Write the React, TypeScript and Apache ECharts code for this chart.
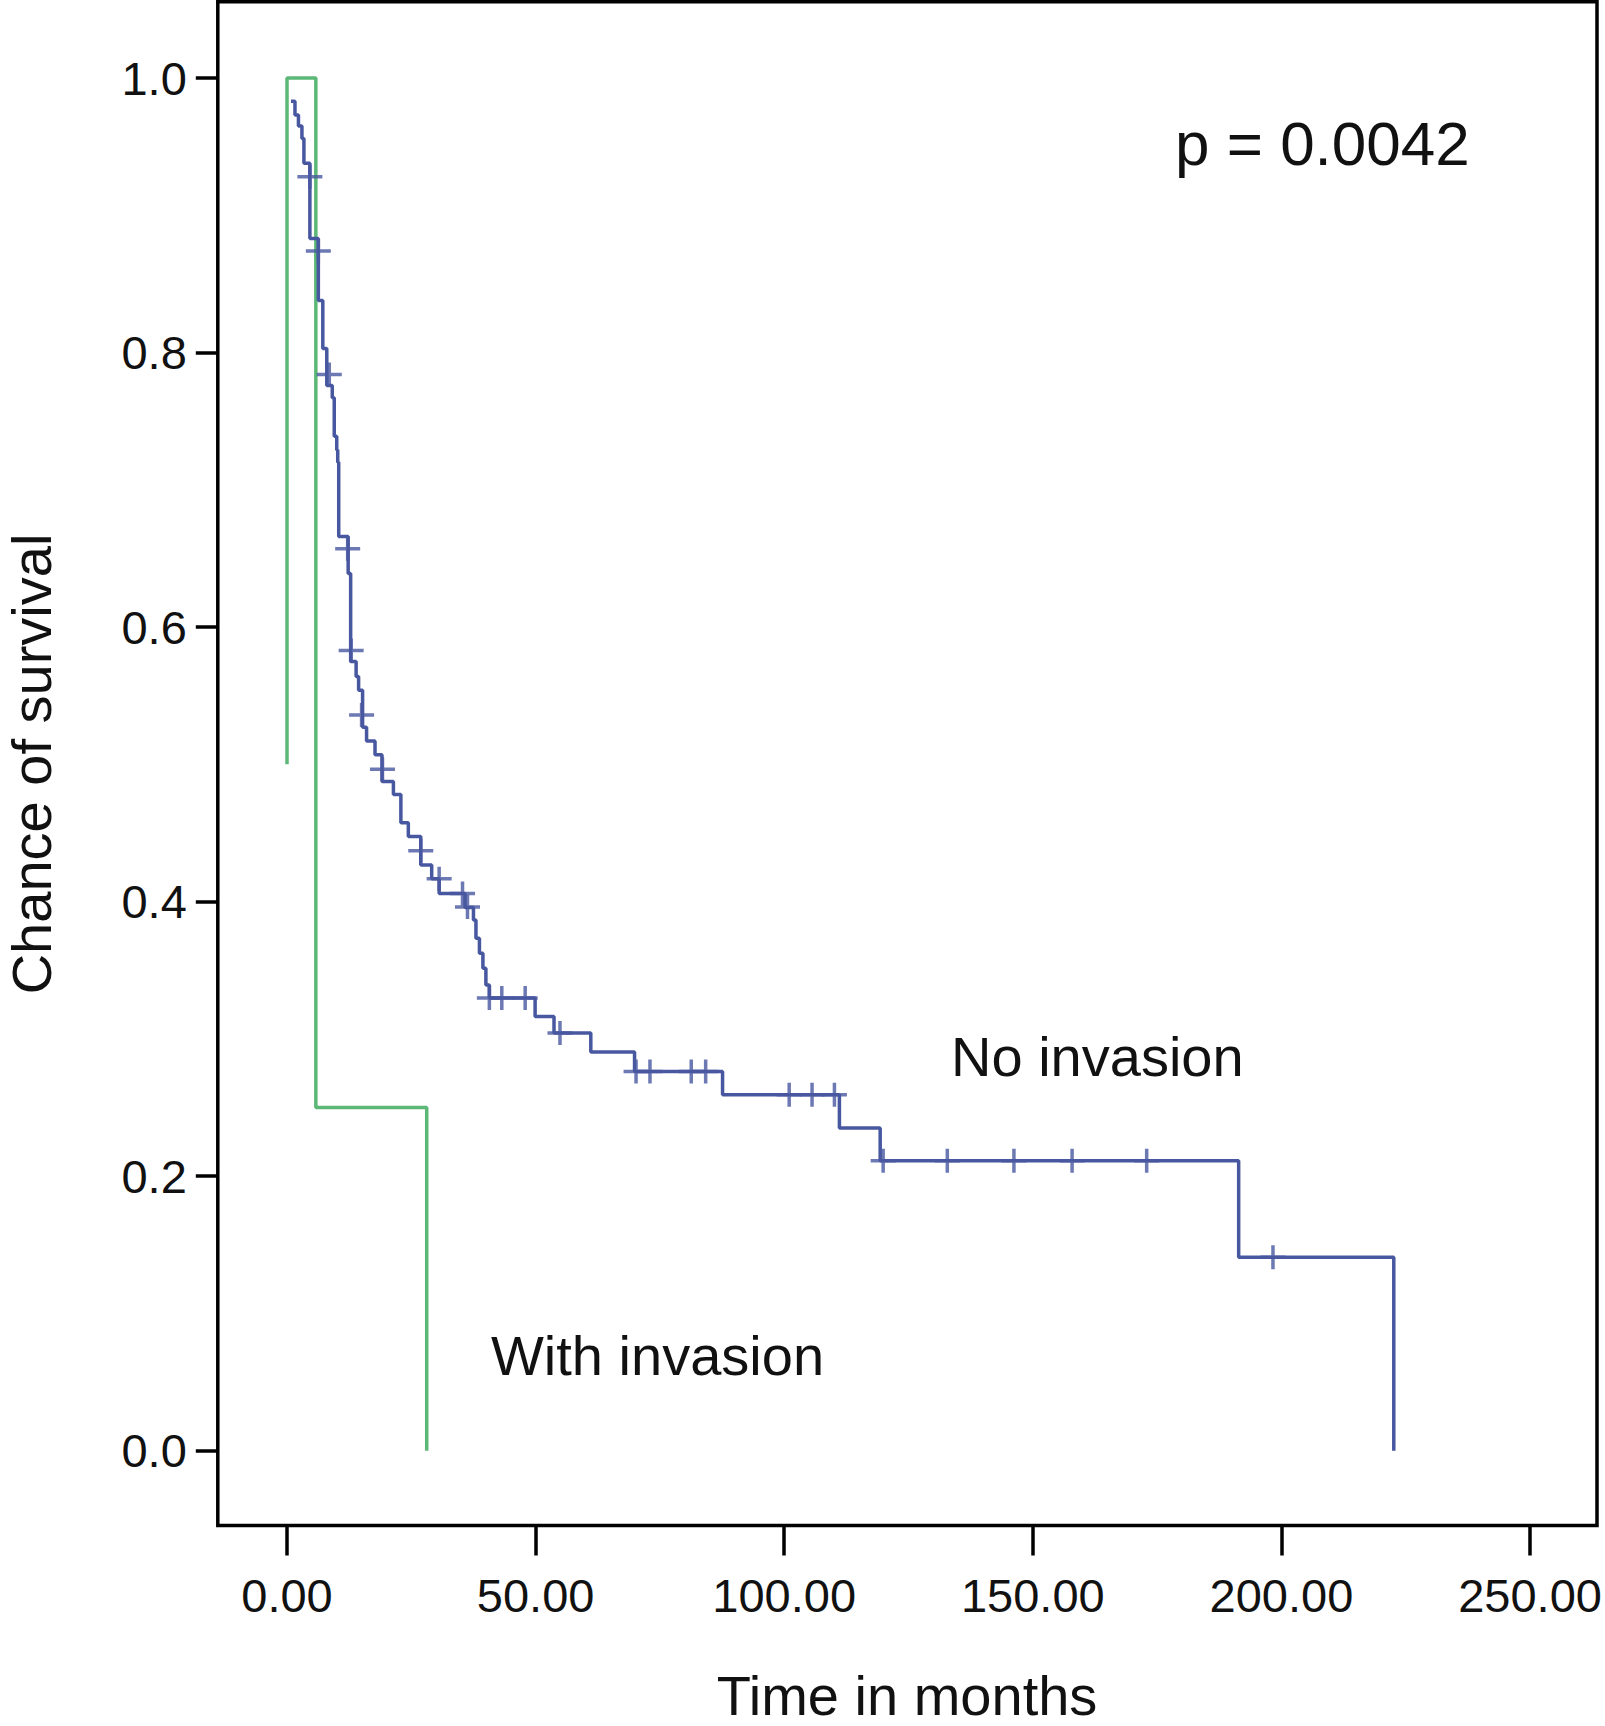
import React, { useEffect, useRef } from "react";
import * as echarts from "echarts";

// ---- Data ----
const xTickValues = [0, 50, 100, 150, 200, 250];
const yTickValues = [0, 0.2, 0.4, 0.6, 0.8, 1.0];

// "No invasion" Kaplan-Meier steps: time of drop (months) and survival after drop
const noInvasionTimes = [
  0.8, 1.6, 2.3, 3.0, 3.4, 4.6, 6.3, 7.2, 8.0, 9.1, 9.5, 10.0, 10.2, 10.4, 12.3,
  12.8, 13.9, 14.4, 15.2, 16.0, 17.7, 19.1, 21.4, 22.9, 24.4, 26.9, 29.1, 30.6,
  35.8, 37.5, 38.0, 38.7, 39.4, 40.0, 40.7, 49.9, 53.7, 61.1, 69.9, 87.6, 111.1,
  119.3, 191.4, 222.6,
];
const noInvasionSurvival = [
  0.983, 0.973, 0.965, 0.956, 0.938, 0.883, 0.838, 0.803, 0.776, 0.767, 0.739,
  0.729, 0.72, 0.666, 0.639, 0.575, 0.564, 0.554, 0.527, 0.517, 0.507, 0.4875,
  0.478, 0.4575, 0.4475, 0.4267, 0.4166, 0.406, 0.3957, 0.3867, 0.3734, 0.3624,
  0.3515, 0.3393, 0.3297, 0.3163, 0.3042, 0.2904, 0.2763, 0.2593, 0.2351, 0.2112,
  0.141, 0,
];
// censored observations
const noInvasionCensorTimes = [
  4.6, 6.3, 8.5, 12.2, 12.9, 15.0, 19.2, 26.9, 30.6, 35.3, 36.3, 40.7, 43.2, 47.9,
  54.9, 70.2, 73.0, 81.3, 84.2, 101.0, 105.6, 110.1, 119.9, 132.8, 146.2, 157.9,
  172.9, 198.3,
];
const noInvasionCensorSurvival = [
  0.928, 0.874, 0.784, 0.657, 0.583, 0.536, 0.4965, 0.437, 0.4166, 0.406, 0.396,
  0.3297, 0.3297, 0.3297, 0.3042, 0.2763, 0.2763, 0.2763, 0.2763, 0.2593, 0.2593,
  0.2593, 0.2112, 0.2112, 0.2112, 0.2112, 0.2112, 0.141,
];

// "With invasion" curve
const withInvasionTimes = [0, 0, 5.8, 28.1];
const withInvasionSurvival = [0.5, 1.0, 0.25, 0];

const BLUE = "#4858a0";
const GREEN = "#5cb876";
const FONT = '"Liberation Sans", Arial, Helvetica, sans-serif';
const PLUS =
  "path://M0,10.25 L25,10.25 L25,13.75 L0,13.75 Z M10.75,0 L14.25,0 L14.25,24 L10.75,24 Z";

export default function App() {
  const ref = useRef<HTMLDivElement>(null);

  useEffect(() => {
    if (!ref.current) return;
    const chart = echarts.init(ref.current, undefined, { renderer: "svg" });

    const blueLine = noInvasionTimes.map((t, i) => [t, noInvasionSurvival[i]]);
    const blueCensor = noInvasionCensorTimes.map((t, i) => [
      t,
      noInvasionCensorSurvival[i],
    ]);
    const greenLine = withInvasionTimes.map((t, i) => [
      t,
      withInvasionSurvival[i],
    ]);

    const textStyle = (size: number) => ({
      font: `${size}px ${FONT}`,
      fill: "#111",
    });

    chart.setOption({
      animation: false,
      backgroundColor: "#fff",
      textStyle: { fontFamily: FONT },
      grid: {
        show: true,
        left: 217.8,
        top: 1.7,
        width: 1379.2,
        height: 1523.8,
        borderColor: "#000",
        borderWidth: 3.5,
        backgroundColor: "transparent",
      },
      xAxis: {
        type: "value",
        min: -13.92,
        max: 263.47,
        splitLine: { show: false },
        axisLine: { show: false, onZero: false },
        axisTick: {
          show: true,
          length: 30,
          customValues: xTickValues,
          lineStyle: { color: "#000", width: 3.5 },
        },
        axisLabel: {
          customValues: xTickValues,
          margin: 46,
          fontSize: 47,
          color: "#111",
          fontFamily: FONT,
          formatter: (v: number) => v.toFixed(2),
        },
      },
      yAxis: {
        type: "value",
        min: -0.0545,
        max: 1.0556,
        splitLine: { show: false },
        axisLine: { show: false, onZero: false },
        axisTick: {
          show: true,
          length: 22,
          customValues: yTickValues,
          lineStyle: { color: "#000", width: 3.5 },
        },
        axisLabel: {
          customValues: yTickValues,
          margin: 31,
          fontSize: 47,
          color: "#111",
          fontFamily: FONT,
          formatter: (v: number) => v.toFixed(1),
        },
      },
      series: [
        {
          name: "With invasion",
          type: "line",
          step: "end",
          data: greenLine,
          showSymbol: false,
          lineStyle: { color: GREEN, width: 3.5 },
          itemStyle: { color: GREEN },
          z: 2,
        },
        {
          name: "No invasion",
          type: "line",
          step: "end",
          data: blueLine,
          showSymbol: false,
          lineStyle: { color: BLUE, width: 3.5 },
          itemStyle: { color: BLUE },
          z: 3,
        },
        {
          name: "No invasion censored",
          type: "scatter",
          data: blueCensor,
          symbol: PLUS,
          symbolSize: [25, 24],
          itemStyle: { color: BLUE },
          z: 4,
        },
      ],
      graphic: [
        {
          type: "text",
          x: 1175,
          y: 143,
          style: {
            text: "p = 0.0042",
            ...textStyle(62),
            align: "left",
            verticalAlign: "middle",
            textAlign: "left",
            textVerticalAlign: "middle",
          },
        },
        {
          type: "text",
          x: 951,
          y: 1056,
          style: {
            text: "No invasion",
            ...textStyle(56),
            align: "left",
            verticalAlign: "middle",
            textAlign: "left",
            textVerticalAlign: "middle",
          },
        },
        {
          type: "text",
          x: 491,
          y: 1355,
          style: {
            text: "With invasion",
            ...textStyle(56),
            align: "left",
            verticalAlign: "middle",
            textAlign: "left",
            textVerticalAlign: "middle",
          },
        },
        {
          type: "text",
          x: 907,
          y: 1695,
          style: {
            text: "Time in months",
            ...textStyle(56),
            align: "center",
            verticalAlign: "middle",
            textAlign: "center",
            textVerticalAlign: "middle",
          },
        },
        {
          type: "text",
          x: 31,
          y: 764,
          rotation: Math.PI / 2,
          style: {
            text: "Chance of survival",
            ...textStyle(56),
            align: "center",
            verticalAlign: "middle",
            textAlign: "center",
            textVerticalAlign: "middle",
          },
        },
      ],
    });

    return () => chart.dispose();
  }, []);

  return (
    <div
      ref={ref}
      style={{
        position: "absolute",
        left: 0,
        top: 0,
        width: 1605,
        height: 1726,
        background: "#fff",
      }}
    />
  );
}
